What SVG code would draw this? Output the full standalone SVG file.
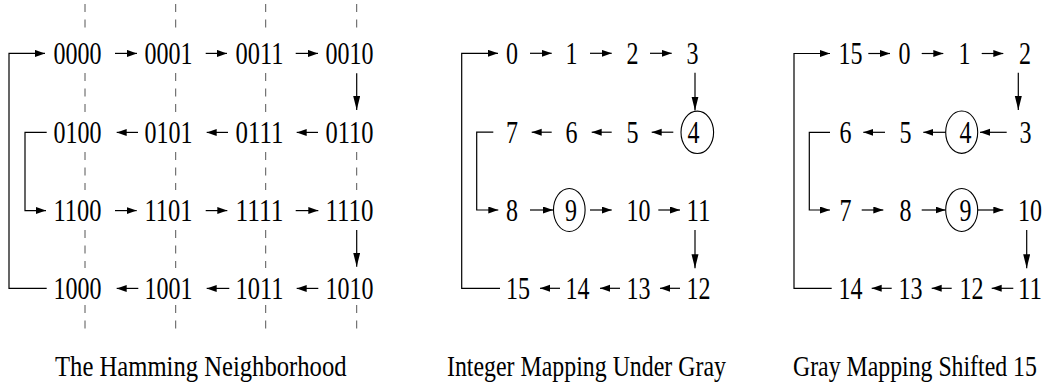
<svg xmlns="http://www.w3.org/2000/svg" width="1047" height="389" viewBox="0 0 1047 389">
<style>
text{font-family:"Liberation Serif","Times New Roman",serif;fill:#000}
.n{font-size:31px}
.c{font-size:29px}
.ln{fill:none;stroke:#000;stroke-width:1.2}
.dash{fill:none;stroke:#555;stroke-width:1;stroke-dasharray:8 7.5}
.ring{fill:none;stroke:#000;stroke-width:1.1}
</style>
<defs>
<marker id="ah" markerUnits="userSpaceOnUse" markerWidth="11" markerHeight="8" refX="10" refY="3.5" orient="auto"><path d="M0,0 L10,3.5 L0,7 z" fill="#000"/></marker>
<marker id="av" markerUnits="userSpaceOnUse" markerWidth="15" markerHeight="8" refX="14" refY="3.5" orient="auto"><path d="M0,0 L14,3.5 L0,7 z" fill="#000"/></marker>
</defs>
<rect width="1047" height="389" fill="#fff"/>
<g id="guides">
<path class="dash" d="M85,4V28M85,73V112M85,152V190M85,230V268M85,305V332"/>
<path class="dash" d="M175.7,4V28M175.7,73V112M175.7,152V190M175.7,230V268M175.7,305V332"/>
<path class="dash" d="M265.7,4V28M265.7,73V112M265.7,152V190M265.7,230V268M265.7,305V332"/>
<path class="dash" d="M356.7,4V28M356.7,152V190M356.7,305V332"/>
</g>
<g id="connectors">
<!-- panel 1 -->
<path class="ln" d="M46.7,288.4H9V53.4H45" marker-end="url(#ah)"/>
<path class="ln" d="M46.7,132.4H25V210.6H46" marker-end="url(#ah)"/>
<path class="ln" d="M115,53.4H137" marker-end="url(#ah)"/>
<path class="ln" d="M205.7,53.4H227" marker-end="url(#ah)"/>
<path class="ln" d="M295.7,53.4H318" marker-end="url(#ah)"/>
<path class="ln" d="M356.7,73.3V110" marker-end="url(#av)"/>
<path class="ln" d="M318,132.4H296.7" marker-end="url(#ah)"/>
<path class="ln" d="M228,132.4H206.7" marker-end="url(#ah)"/>
<path class="ln" d="M138,132.4H116.7" marker-end="url(#ah)"/>
<path class="ln" d="M115,210.6H136.7" marker-end="url(#ah)"/>
<path class="ln" d="M205.7,210.6H227.3" marker-end="url(#ah)"/>
<path class="ln" d="M295.7,210.6H318.3" marker-end="url(#ah)"/>
<path class="ln" d="M356.7,230V266.7" marker-end="url(#av)"/>
<path class="ln" d="M318.3,288.4H296.7" marker-end="url(#ah)"/>
<path class="ln" d="M229.3,288.4H206.7" marker-end="url(#ah)"/>
<path class="ln" d="M138.3,288.4H116.7" marker-end="url(#ah)"/>
<!-- panel 2 -->
<path class="ln" d="M500,288.3H461.7V53.3H498" marker-end="url(#ah)"/>
<path class="ln" d="M493.3,132.2H476.7V210H498.3" marker-end="url(#ah)"/>
<path class="ln" d="M530,53.3H551.7" marker-end="url(#ah)"/>
<path class="ln" d="M590,53.3H611.7" marker-end="url(#ah)"/>
<path class="ln" d="M650,53.3H671.7" marker-end="url(#ah)"/>
<path class="ln" d="M695,72.7V110.5" marker-end="url(#av)"/>
<path class="ln" d="M673.3,132.2H651.7" marker-end="url(#ah)"/>
<path class="ln" d="M611.7,132.2H591.7" marker-end="url(#ah)"/>
<path class="ln" d="M551.7,132.2H531.7" marker-end="url(#ah)"/>
<path class="ln" d="M530,210H553" marker-end="url(#ah)"/>
<path class="ln" d="M590,210H611.7" marker-end="url(#ah)"/>
<path class="ln" d="M658.3,210H680" marker-end="url(#ah)"/>
<path class="ln" d="M695,230V268.3" marker-end="url(#av)"/>
<path class="ln" d="M680,288.3H660" marker-end="url(#ah)"/>
<path class="ln" d="M620,288.3H600" marker-end="url(#ah)"/>
<path class="ln" d="M560,288.3H540" marker-end="url(#ah)"/>
<!-- panel 3 -->
<path class="ln" d="M831.7,288.3H794V53.5H830" marker-end="url(#ah)"/>
<path class="ln" d="M830,132.3H809.3V210H830" marker-end="url(#ah)"/>
<path class="ln" d="M868.3,53.5H890" marker-end="url(#ah)"/>
<path class="ln" d="M921.7,53.5H943.3" marker-end="url(#ah)"/>
<path class="ln" d="M981.7,53.5H1003.3" marker-end="url(#ah)"/>
<path class="ln" d="M1018.3,72.7V110" marker-end="url(#av)"/>
<path class="ln" d="M1006.7,132.3H980" marker-end="url(#ah)"/>
<path class="ln" d="M945.7,132.3H923.3" marker-end="url(#ah)"/>
<path class="ln" d="M885,132.3H863.3" marker-end="url(#ah)"/>
<path class="ln" d="M861.7,210H883.3" marker-end="url(#ah)"/>
<path class="ln" d="M921.7,210H945.5" marker-end="url(#ah)"/>
<path class="ln" d="M977.7,210H1003.3" marker-end="url(#ah)"/>
<path class="ln" d="M1026.7,230V268.3" marker-end="url(#av)"/>
<path class="ln" d="M1013.3,288.3H991.7" marker-end="url(#ah)"/>
<path class="ln" d="M951.7,288.3H931.7" marker-end="url(#ah)"/>
<path class="ln" d="M891.7,288.3H871.7" marker-end="url(#ah)"/>
</g>
<!-- panel 1 nodes -->
<g id="h0000"><text class="n" x="53.5" y="64" textLength="48" lengthAdjust="spacingAndGlyphs">0000</text></g>
<g id="h0001"><text class="n" x="144.5" y="64" textLength="48" lengthAdjust="spacingAndGlyphs">0001</text></g>
<g id="h0011"><text class="n" x="235.5" y="64" textLength="48" lengthAdjust="spacingAndGlyphs">0011</text></g>
<g id="h0010"><text class="n" x="325.5" y="64" textLength="48" lengthAdjust="spacingAndGlyphs">0010</text></g>
<g id="h0100"><text class="n" x="53.5" y="142.5" textLength="48" lengthAdjust="spacingAndGlyphs">0100</text></g>
<g id="h0101"><text class="n" x="144.5" y="142.5" textLength="48" lengthAdjust="spacingAndGlyphs">0101</text></g>
<g id="h0111"><text class="n" x="235.5" y="142.5" textLength="48" lengthAdjust="spacingAndGlyphs">0111</text></g>
<g id="h0110"><text class="n" x="325.5" y="142.5" textLength="48" lengthAdjust="spacingAndGlyphs">0110</text></g>
<g id="h1100"><text class="n" x="53.5" y="221" textLength="48" lengthAdjust="spacingAndGlyphs">1100</text></g>
<g id="h1101"><text class="n" x="144.5" y="221" textLength="48" lengthAdjust="spacingAndGlyphs">1101</text></g>
<g id="h1111"><text class="n" x="235.5" y="221" textLength="48" lengthAdjust="spacingAndGlyphs">1111</text></g>
<g id="h1110"><text class="n" x="325.5" y="221" textLength="48" lengthAdjust="spacingAndGlyphs">1110</text></g>
<g id="h1000"><text class="n" x="53.5" y="298.5" textLength="48" lengthAdjust="spacingAndGlyphs">1000</text></g>
<g id="h1001"><text class="n" x="144.5" y="298.5" textLength="48" lengthAdjust="spacingAndGlyphs">1001</text></g>
<g id="h1011"><text class="n" x="235.5" y="298.5" textLength="48" lengthAdjust="spacingAndGlyphs">1011</text></g>
<g id="h1010"><text class="n" x="325.5" y="298.5" textLength="48" lengthAdjust="spacingAndGlyphs">1010</text></g>
<!-- panel 2 nodes -->
<g id="i0"><text class="n" x="506" y="64" textLength="12" lengthAdjust="spacingAndGlyphs">0</text></g>
<g id="i1"><text class="n" x="565.5" y="64" textLength="12" lengthAdjust="spacingAndGlyphs">1</text></g>
<g id="i2"><text class="n" x="626.5" y="64" textLength="12" lengthAdjust="spacingAndGlyphs">2</text></g>
<g id="i3"><text class="n" x="686.5" y="64" textLength="12" lengthAdjust="spacingAndGlyphs">3</text></g>
<g id="i7"><text class="n" x="506" y="142.5" textLength="12" lengthAdjust="spacingAndGlyphs">7</text></g>
<g id="i6"><text class="n" x="565.5" y="142.5" textLength="12" lengthAdjust="spacingAndGlyphs">6</text></g>
<g id="i5"><text class="n" x="626.5" y="142.5" textLength="12" lengthAdjust="spacingAndGlyphs">5</text></g>
<g id="i4"><ellipse class="ring" cx="697.3" cy="132.3" rx="16.3" ry="21.2"/><text class="n" x="687.5" y="142.5" textLength="12" lengthAdjust="spacingAndGlyphs">4</text></g>
<g id="i8"><text class="n" x="506" y="220.5" textLength="12" lengthAdjust="spacingAndGlyphs">8</text></g>
<g id="i9"><ellipse class="ring" cx="569.3" cy="210" rx="15.8" ry="21.5"/><text class="n" x="565" y="220.5" textLength="12" lengthAdjust="spacingAndGlyphs">9</text></g>
<g id="i10"><text class="n" x="626.5" y="220.5" textLength="24" lengthAdjust="spacingAndGlyphs">10</text></g>
<g id="i11"><text class="n" x="686.5" y="220.5" textLength="24" lengthAdjust="spacingAndGlyphs">11</text></g>
<g id="i15"><text class="n" x="506" y="298.5" textLength="24" lengthAdjust="spacingAndGlyphs">15</text></g>
<g id="i14"><text class="n" x="565.5" y="298.5" textLength="24" lengthAdjust="spacingAndGlyphs">14</text></g>
<g id="i13"><text class="n" x="626.5" y="298.5" textLength="24" lengthAdjust="spacingAndGlyphs">13</text></g>
<g id="i12"><text class="n" x="686.5" y="298.5" textLength="24" lengthAdjust="spacingAndGlyphs">12</text></g>
<!-- panel 3 nodes -->
<g id="g15"><text class="n" x="838.5" y="64" textLength="24" lengthAdjust="spacingAndGlyphs">15</text></g>
<g id="g0"><text class="n" x="898.5" y="64" textLength="12" lengthAdjust="spacingAndGlyphs">0</text></g>
<g id="g1"><text class="n" x="958.5" y="64" textLength="12" lengthAdjust="spacingAndGlyphs">1</text></g>
<g id="g2"><text class="n" x="1019" y="64" textLength="12" lengthAdjust="spacingAndGlyphs">2</text></g>
<g id="g6"><text class="n" x="839.5" y="142.5" textLength="12" lengthAdjust="spacingAndGlyphs">6</text></g>
<g id="g5"><text class="n" x="899.5" y="142.5" textLength="12" lengthAdjust="spacingAndGlyphs">5</text></g>
<g id="g4"><ellipse class="ring" cx="961.7" cy="132.2" rx="16" ry="21.2"/><text class="n" x="959.5" y="142.5" textLength="12" lengthAdjust="spacingAndGlyphs">4</text></g>
<g id="g3"><text class="n" x="1019.5" y="142.5" textLength="12" lengthAdjust="spacingAndGlyphs">3</text></g>
<g id="g7"><text class="n" x="839.5" y="220.5" textLength="12" lengthAdjust="spacingAndGlyphs">7</text></g>
<g id="g8"><text class="n" x="899.5" y="220.5" textLength="12" lengthAdjust="spacingAndGlyphs">8</text></g>
<g id="g9"><ellipse class="ring" cx="961.7" cy="210" rx="16" ry="21.5"/><text class="n" x="959.5" y="220.5" textLength="12" lengthAdjust="spacingAndGlyphs">9</text></g>
<g id="g10"><text class="n" x="1018" y="220.5" textLength="24" lengthAdjust="spacingAndGlyphs">10</text></g>
<g id="g14"><text class="n" x="838.5" y="298.5" textLength="24" lengthAdjust="spacingAndGlyphs">14</text></g>
<g id="g13"><text class="n" x="898.5" y="298.5" textLength="24" lengthAdjust="spacingAndGlyphs">13</text></g>
<g id="g12"><text class="n" x="959.5" y="298.5" textLength="24" lengthAdjust="spacingAndGlyphs">12</text></g>
<g id="g11"><text class="n" x="1018" y="298.5" textLength="24" lengthAdjust="spacingAndGlyphs">11</text></g>
<!-- captions -->
<g id="captions">
<text class="c" transform="translate(55,376) scale(0.85,1)">The Hamming Neighborhood</text>
<text class="c" transform="translate(447,376) scale(0.823,1)">Integer Mapping Under Gray</text>
<text class="c" transform="translate(793,376) scale(0.821,1)">Gray Mapping Shifted 15</text>
</g>
</svg>
